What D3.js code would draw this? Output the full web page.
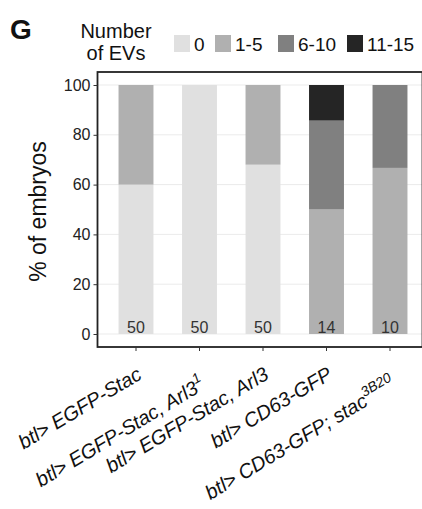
<!DOCTYPE html>
<html>
<head>
<meta charset="utf-8">
<script src="https://cdn.jsdelivr.net/npm/d3@7"></script>
<style>
  body { margin: 0; background: #fff; }
  svg { display: block; font-family: "Liberation Sans", Arial, sans-serif; }
</style>
</head>
<body>
<div id="chart"></div>
<script>
const groups = ["btl> EGFP-Stac", "btl> EGFP-Stac, Arl3", "btl> EGFP-Stac, Arl3 ", "btl> CD63-GFP", "btl> CD63-GFP; stac"];
const groupSups = ["", "1", "", "", "3B20"];
const categories = ["0", "1-5", "6-10", "11-15"];
const pct0 = [60, 100, 68, 0, 0];
const pct1to5 = [40, 0, 32, 50, 66.7];
const pct6to10 = [0, 0, 0, 35.7, 33.3];
const pct11to15 = [0, 0, 0, 14.3, 0];
const counts = [50, 50, 50, 14, 10];
const yTicks = [0, 20, 40, 60, 80, 100];
const colors = ["#e0e0e0", "#b0b0b0", "#808080", "#252525"];

const width = 422, height = 509;
const panel = { left: 97.5, right: 422.5, top: 72, bottom: 347 };

const svg = d3.select("#chart").append("svg")
  .attr("width", width)
  .attr("height", height);

const xScale = d3.scaleBand()
  .domain(groups)
  .range([104.25, 421.75])
  .paddingInner(0.45)
  .paddingOuter(0.225);

const yScale = d3.scaleLinear().domain([0, 100]).range([334, 85]);

// gridlines
svg.append("g")
  .selectAll("line")
  .data(yTicks)
  .join("line")
  .attr("x1", panel.left)
  .attr("x2", panel.right)
  .attr("y1", d => yScale(d))
  .attr("y2", d => yScale(d))
  .attr("stroke", "#ebebeb")
  .attr("stroke-width", 1);

// stacked bars
const table = groups.map((g, i) => ({
  group: g,
  "0": pct0[i],
  "1-5": pct1to5[i],
  "6-10": pct6to10[i],
  "11-15": pct11to15[i],
}));
const stacked = d3.stack().keys(categories)(table);

svg.append("g")
  .selectAll("g")
  .data(stacked)
  .join("g")
  .attr("fill", (d, i) => colors[i])
  .selectAll("rect")
  .data(d => d)
  .join("rect")
  .attr("x", d => xScale(d.data.group))
  .attr("width", xScale.bandwidth())
  .attr("y", d => yScale(d[1]))
  .attr("height", d => yScale(d[0]) - yScale(d[1]));

// count labels
svg.append("g")
  .selectAll("text")
  .data(groups)
  .join("text")
  .attr("x", d => xScale(d) + xScale.bandwidth() / 2)
  .attr("y", yScale(0) - 1)
  .attr("text-anchor", "middle")
  .attr("font-size", 16)
  .attr("fill", "#333")
  .text((d, i) => counts[i]);

// panel border
svg.append("rect")
  .attr("x", panel.left)
  .attr("y", panel.top)
  .attr("width", panel.right - panel.left)
  .attr("height", panel.bottom - panel.top)
  .attr("fill", "none")
  .attr("stroke", "#222")
  .attr("stroke-width", 1.8);

// y axis
const yAxis = svg.append("g")
  .attr("transform", `translate(${panel.left},0)`)
  .call(d3.axisLeft(yScale).tickValues(yTicks).tickSize(4).tickPadding(3));
yAxis.select(".domain").remove();
yAxis.selectAll(".tick line").attr("stroke", "#333");
yAxis.selectAll(".tick text")
  .attr("font-size", 16)
  .attr("fill", "#222")
  .attr("font-family", "Liberation Sans, Arial, sans-serif");

// x axis ticks
const xAxis = svg.append("g")
  .attr("transform", `translate(0,${panel.bottom})`)
  .call(d3.axisBottom(xScale).tickSize(4).tickFormat(""));
xAxis.select(".domain").remove();
xAxis.selectAll(".tick line").attr("stroke", "#333");

// x labels, rotated; labels with a superscript sit a bit lower
const xLab = svg.append("g")
  .selectAll("text")
  .data(groups)
  .join("text")
  .attr("transform", (d, i) => {
    const x = xScale(d) + xScale.bandwidth() / 2 + 7;
    const y = panel.bottom + (groupSups[i] ? 41 : 31);
    return `translate(${x},${y}) rotate(-31)`;
  })
  .attr("text-anchor", "end")
  .attr("font-size", 20)
  .attr("font-style", "italic")
  .attr("fill", "#111");
xLab.append("tspan").text(d => d.trim());
xLab.append("tspan")
  .attr("font-size", 14)
  .attr("dy", -9)
  .text((d, i) => groupSups[i]);

// y title
svg.append("text")
  .attr("transform", `translate(46,${(panel.top + panel.bottom) / 2 + 2}) rotate(-90)`)
  .attr("text-anchor", "middle")
  .attr("font-size", 23)
  .attr("fill", "#111")
  .text("% of embryos");

// panel letter
svg.append("text")
  .attr("x", 10)
  .attr("y", 39)
  .attr("font-size", 28)
  .attr("font-weight", "bold")
  .attr("fill", "#111")
  .text("G");

// legend
const legend = svg.append("g");
legend.append("text")
  .attr("x", 116)
  .attr("y", 38)
  .attr("text-anchor", "middle")
  .attr("font-size", 20)
  .attr("fill", "#111")
  .selectAll("tspan")
  .data(["Number", "of EVs"])
  .join("tspan")
  .attr("x", 116)
  .attr("dy", (d, i) => i === 0 ? 0 : 22)
  .text(d => d);

const legendX = [174, 215, 278, 347];
const items = legend.selectAll("g.item")
  .data(categories)
  .join("g")
  .attr("class", "item")
  .attr("transform", (d, i) => `translate(${legendX[i]},35)`);
items.append("rect")
  .attr("width", 16)
  .attr("height", 17)
  .attr("fill", (d, i) => colors[i]);
items.append("text")
  .attr("x", 20)
  .attr("y", 16)
  .attr("font-size", 19)
  .attr("fill", "#111")
  .text(d => d);
</script>
</body>
</html>
